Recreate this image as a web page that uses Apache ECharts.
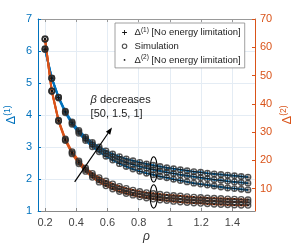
<!DOCTYPE html>
<html><head><meta charset="utf-8">
<script src="https://cdn.jsdelivr.net/npm/echarts@6/dist/echarts.min.js"></script>
<style>html,body{margin:0;padding:0;background:#fff}#c{width:291px;height:244px}</style>
</head><body><div id="c"></div>
<script>
// ---- data ----
const rho = [0.2, 0.2433, 0.2867, 0.33, 0.3733, 0.4167, 0.46, 0.5033, 0.5467, 0.59, 0.6333, 0.6767, 0.72, 0.7633, 0.8067, 0.85, 0.8933, 0.9367, 0.98, 1.0233, 1.0667, 1.11, 1.1533, 1.1967, 1.24, 1.2833, 1.3267, 1.37, 1.4133, 1.4567, 1.5];
// Delta(1), left axis
const d1Beta1   = [6.07, 5.16, 4.56, 4.12, 3.78, 3.52, 3.31, 3.14, 3.00, 2.88, 2.78, 2.70, 2.63, 2.57, 2.52, 2.47, 2.43, 2.39, 2.35, 2.32, 2.29, 2.26, 2.23, 2.21, 2.18, 2.16, 2.14, 2.12, 2.10, 2.08, 2.06];
const d1Beta1p5 = [6.06, 5.15, 4.55, 4.10, 3.75, 3.48, 3.26, 3.08, 2.93, 2.80, 2.69, 2.60, 2.52, 2.45, 2.39, 2.34, 2.29, 2.25, 2.21, 2.17, 2.13, 2.10, 2.07, 2.04, 2.01, 1.98, 1.96, 1.93, 1.91, 1.89, 1.87];
const d1Beta50  = [6.05, 5.14, 4.53, 4.07, 3.71, 3.43, 3.20, 3.01, 2.85, 2.71, 2.59, 2.48, 2.39, 2.31, 2.24, 2.18, 2.13, 2.08, 2.04, 1.99, 1.95, 1.91, 1.87, 1.84, 1.81, 1.78, 1.75, 1.72, 1.70, 1.68, 1.66];
// Delta(2), right axis
const d2Beta1   = [63.0, 44.6, 34.2, 27.6, 23.1, 19.8, 17.3, 15.4, 13.9, 12.7, 11.7, 10.8, 10.1, 9.5, 9.0, 8.6, 8.3, 8.0, 7.8, 7.6, 7.4, 7.2, 7.0, 6.9, 6.7, 6.6, 6.5, 6.4, 6.3, 6.2, 6.1];
const d2Beta1p5 = [62.9, 44.5, 34.0, 27.3, 22.7, 19.3, 16.7, 14.7, 13.1, 11.8, 10.7, 9.8, 9.1, 8.5, 8.0, 7.5, 7.2, 6.9, 6.7, 6.5, 6.3, 6.1, 5.9, 5.8, 5.7, 5.6, 5.5, 5.4, 5.3, 5.25, 5.2];
const d2Beta50  = [62.8, 44.4, 33.8, 27.0, 22.3, 18.8, 16.1, 14.0, 12.3, 11.0, 9.9, 9.0, 8.3, 7.7, 7.1, 6.7, 6.3, 6.0, 5.8, 5.5, 5.3, 5.1, 4.95, 4.8, 4.65, 4.5, 4.4, 4.3, 4.2, 4.15, 4.1];
// simulation points (coincide with the analytical curves)
const sim1 = [d1Beta1, d1Beta1p5, d1Beta50];
const sim2 = [d2Beta1, d2Beta1p5, d2Beta50];
// ticks
const xTicks = [0.2, 0.4, 0.6, 0.8, 1, 1.2, 1.4];
const y1Ticks = [1, 2, 3, 4, 5, 6, 7];
const y2Ticks = [10, 20, 30, 40, 50, 60, 70];
const betaLabel = '[50, 1.5, 1]';

// ---- styling ----
const BLUE = '#0072BD', ORANGE = '#D95319', FONT = 'Liberation Sans';
const PLUS = 'path://M4.3,0 L5.7,0 L5.7,4.3 L10,4.3 L10,5.7 L5.7,5.7 L5.7,10 L4.3,10 L4.3,5.7 L0,5.7 L0,4.3 L4.3,4.3 Z';
const PLUS_ICON = 'path://M0,0 M10,10 M4.45,2 L5.55,2 L5.55,4.45 L8,4.45 L8,5.55 L5.55,5.55 L5.55,8 L4.45,8 L4.45,5.55 L2,5.55 L2,4.45 L4.45,4.45 Z';
const DOT_ICON = 'path://M0,0 M10,10 M5,3.9 A1.1,1.1 0 1,1 5,6.1 A1.1,1.1 0 1,1 5,3.9 Z';
const CIRC_ICON = 'path://M0,0 M10,10 M5,2.2 A2.8,2.8 0 1,1 5,7.8 A2.8,2.8 0 1,1 5,2.2 Z';
const LEG1 = 'D1', LEG2 = 'D2', LEGS = 'Simulation';
const pairs = v => rho.map((x, i) => [x, v[i]]);

const series = [];
[d1Beta1, d1Beta1p5, d1Beta50].forEach(v => series.push({
  type: 'line', name: LEG1, xAxisIndex: 0, yAxisIndex: 0, data: pairs(v),
  symbol: PLUS, symbolSize: 5, lineStyle: {color: BLUE, width: 2}, itemStyle: {color: '#111'}, z: 2
}));
[d2Beta1, d2Beta1p5, d2Beta50].forEach(v => series.push({
  type: 'line', name: LEG2, xAxisIndex: 0, yAxisIndex: 1, data: pairs(v),
  symbol: 'circle', symbolSize: 2.2, lineStyle: {color: ORANGE, width: 2}, itemStyle: {color: '#111'}, z: 2
}));
sim1.forEach(v => series.push({
  type: 'scatter', name: LEGS, xAxisIndex: 0, yAxisIndex: 0, data: pairs(v),
  symbol: 'circle', symbolSize: 5.5, itemStyle: {color: 'rgba(0,0,0,0)', borderColor: '#2c2c2c', borderWidth: 1.4}, z: 3
}));
sim2.forEach(v => series.push({
  type: 'scatter', name: LEGS, xAxisIndex: 0, yAxisIndex: 1, data: pairs(v),
  symbol: 'circle', symbolSize: 5.5, itemStyle: {color: 'rgba(0,0,0,0)', borderColor: '#2c2c2c', borderWidth: 1.4}, z: 3
}));

const chart = echarts.init(document.getElementById('c'), null, {renderer: 'canvas'});
const tick = (c) => ({show: true, inside: true, length: 3, lineStyle: {color: c}});
chart.setOption({
  animation: false,
  textStyle: {fontFamily: FONT},
  grid: {left: 38, right: 36, top: 19, bottom: 33, outerBoundsMode: 'none', containLabel: false},
  legend: {
    orient: 'vertical', left: 115, top: 23, padding: [3.5, 4, 2, 5],
    itemWidth: 10, itemHeight: 8, itemGap: 1.7,
    backgroundColor: '#fff', borderColor: '#888', borderWidth: 0.8, borderRadius: 0,
    selectedMode: false,
    data: [
      {name: LEG1, icon: PLUS_ICON, itemStyle: {color: '#111', borderWidth: 0}},
      {name: LEGS, icon: CIRC_ICON, itemStyle: {color: 'rgba(0,0,0,0)', borderColor: '#222', borderWidth: 1.1}},
      {name: LEG2, icon: DOT_ICON, itemStyle: {color: '#111', borderWidth: 0}}
    ],
    formatter: n => n === LEG1 ? '{d|Δ}{s|(1)}{t| [No energy limitation]}'
                 : n === LEG2 ? '{d|Δ}{s|(2)}{t| [No energy limitation]}' : '{t|Simulation}',
    textStyle: {
      fontFamily: FONT, color: '#222', fontSize: 9.5, lineHeight: 12,
      rich: {
        d: {fontSize: 9.5, lineHeight: 12, color: '#222', fontFamily: FONT},
        s: {fontSize: 6.5, lineHeight: 12, color: '#222', fontFamily: FONT, verticalAlign: 'top', padding: [0, 0, 3, 0]},
        t: {fontSize: 9.5, lineHeight: 12, color: '#222', fontFamily: FONT}
      }
    }
  },
  xAxis: [{
    type: 'value', min: 0.155, max: 1.545, position: 'bottom',
    name: 'ρ', nameLocation: 'middle', nameGap: 20, nameMoveOverlap: false,
    nameTextStyle: {fontFamily: FONT, fontStyle: 'italic', fontSize: 12, color: '#333'},
    axisLine: {show: true, onZero: false, lineStyle: {color: '#888', width: 1}},
    axisTick: Object.assign(tick('#888'), {customValues: xTicks}),
    axisLabel: {customValues: xTicks, color: '#444', fontSize: 11, margin: 6, fontFamily: FONT, hideOverlap: false},
    splitLine: {show: true, lineStyle: {color: '#e4ecf4', width: 1}}
  }, {
    type: 'value', min: 0.155, max: 1.545, position: 'top',
    axisLine: {show: true, onZero: false, lineStyle: {color: '#999', width: 1}},
    axisTick: Object.assign(tick('#999'), {customValues: xTicks}),
    axisLabel: {show: false}, splitLine: {show: false}
  }],
  yAxis: [{
    type: 'value', min: 1, max: 7, interval: 1, position: 'left',
    name: '{d|Δ}{s|(1)}', nameLocation: 'middle', nameGap: 19, nameRotate: 90, nameMoveOverlap: false,
    nameTextStyle: {rich: {
      d: {fontSize: 13, lineHeight: 16, color: BLUE, fontFamily: FONT},
      s: {fontSize: 8.5, lineHeight: 16, color: BLUE, fontFamily: FONT, verticalAlign: 'top', padding: [0, 0, 4, 0]}
    }},
    axisLine: {show: true, onZero: false, lineStyle: {color: BLUE, width: 1}},
    axisTick: Object.assign(tick(BLUE), {customValues: y1Ticks}),
    axisLabel: {customValues: y1Ticks, color: BLUE, fontSize: 11, margin: 6, fontFamily: FONT},
    splitLine: {show: true, lineStyle: {color: '#e4ecf4', width: 1}}
  }, {
    type: 'value', min: 2.1, max: 70, position: 'right',
    name: '{d|Δ}{s|(2)}', nameLocation: 'middle', nameGap: 24, nameRotate: 90, nameMoveOverlap: false,
    nameTextStyle: {rich: {
      d: {fontSize: 13, lineHeight: 16, color: ORANGE, fontFamily: FONT},
      s: {fontSize: 8.5, lineHeight: 16, color: ORANGE, fontFamily: FONT, verticalAlign: 'top', padding: [0, 0, 4, 0]}
    }},
    axisLine: {show: true, onZero: false, lineStyle: {color: ORANGE, width: 1}},
    axisTick: Object.assign(tick(ORANGE), {customValues: y2Ticks}),
    axisLabel: {customValues: y2Ticks, color: ORANGE, fontSize: 11, margin: 5, fontFamily: FONT},
    splitLine: {show: false}
  }],
  series: series
});

// ---- annotations (placed in data coordinates) ----
const px = (x, y, yi) => chart.convertToPixel({xAxisIndex: 0, yAxisIndex: yi || 0}, [x, y]);
const a0 = px(0.39, 1.91), a1 = px(0.629, 3.61);
const dx = a1[0] - a0[0], dy = a1[1] - a0[1], L = Math.hypot(dx, dy), ux = dx / L, uy = dy / L;
const hl = 7, hw = 2.6;
const base = [a1[0] - ux * hl, a1[1] - uy * hl];
const e1 = px(0.896, 2.30), e1t = px(0.896, 2.695);
const e2 = px(0.896, 1.455), e2t = px(0.896, 1.82);
const t1 = px(0.492, 4.47), t2 = px(0.492, 4.03);
chart.setOption({graphic: [
  {type: 'line', shape: {x1: a0[0], y1: a0[1], x2: base[0], y2: base[1]}, style: {stroke: '#000', lineWidth: 1.2}, z: 10},
  {type: 'polygon', shape: {points: [a1, [base[0] - uy * hw, base[1] + ux * hw], [base[0] + uy * hw, base[1] - ux * hw]]}, style: {fill: '#000'}, z: 10},
  {type: 'ellipse', shape: {cx: e1[0], cy: e1[1], rx: 3.6, ry: e1[1] - e1t[1]}, style: {fill: 'none', stroke: '#000', lineWidth: 1.1}, z: 10},
  {type: 'ellipse', shape: {cx: e2[0], cy: e2[1], rx: 3.6, ry: e2[1] - e2t[1]}, style: {fill: 'none', stroke: '#000', lineWidth: 1.1}, z: 10},
  {type: 'text', x: t1[0], y: t1[1], z: 10, style: {text: '{b|β} decreases', fill: '#222', fontSize: 11, fontFamily: FONT, verticalAlign: 'middle',
     rich: {b: {fontStyle: 'italic', fontSize: 11, fontFamily: FONT, fill: '#222'}}}},
  {type: 'text', x: t2[0], y: t2[1], z: 10, style: {text: betaLabel, fill: '#222', fontSize: 11, fontFamily: FONT, verticalAlign: 'middle'}}
]});
</script>
</body></html>
